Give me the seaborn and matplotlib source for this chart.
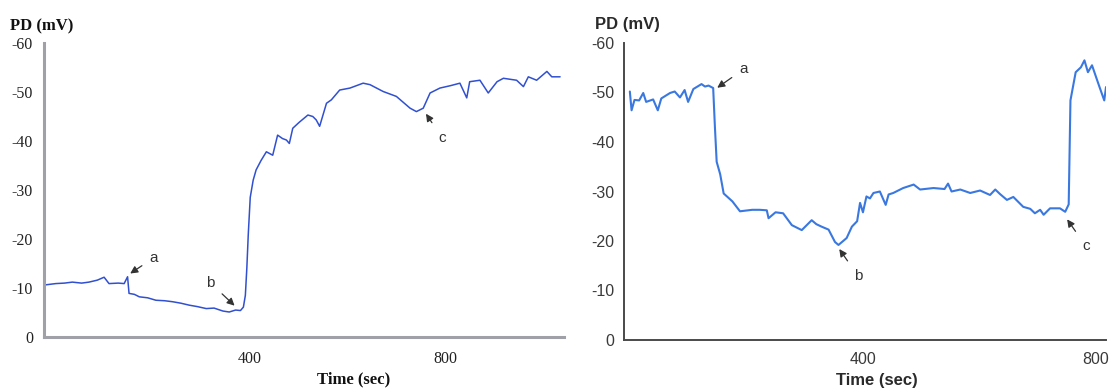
import numpy as np
import pandas as pd
import seaborn as sns
import matplotlib.pyplot as plt

# left trace: time (s) vs potential difference (mV)
left_time = [-22, 2, 20, 36, 55, 70, 87, 101, 111, 130, 142, 149, 152, 163, 173, 190,
             207, 225, 241, 258, 275, 292, 310, 326, 344, 357, 370, 380, 386, 390, 393,
             396, 400, 406, 412, 422, 433, 446, 456, 466, 474, 480, 487, 500, 518, 528,
             535, 542, 556, 566, 583, 604, 631, 645, 672, 699, 727, 740, 754, 768, 788,
             810, 829, 843, 849, 870, 887, 905, 918, 945, 959, 969, 986, 1007, 1017, 1034]
left_pd = [-10.6, -10.9, -11.0, -11.2, -11.0, -11.2, -11.6, -12.2, -10.9, -11.0, -10.9,
           -12.3, -8.9, -8.7, -8.2, -8.0, -7.5, -7.4, -7.2, -6.9, -6.5, -6.2, -5.8, -5.9,
           -5.3, -5.1, -5.5, -5.4, -6.1, -8.5, -14.0, -21.0, -28.5, -32.0, -34.1, -36.0,
           -37.8, -37.1, -41.2, -40.5, -40.2, -39.5, -42.6, -43.8, -45.3, -45.0, -44.3,
           -43.0, -47.7, -48.4, -50.4, -50.8, -51.8, -51.5, -50.1, -49.1, -46.7, -46.0,
           -46.7, -49.8, -50.8, -51.3, -51.8, -48.8, -52.1, -52.4, -49.8, -52.1, -52.8,
           -52.4, -51.1, -53.1, -52.4, -54.2, -53.1, -53.1]

# right trace
right_time = [0, 3, 8, 16, 23, 28, 40, 48, 54, 69, 77, 86, 94, 100, 109, 123, 129, 135,
              143, 146, 149, 155, 161, 176, 189, 210, 223, 235, 238, 250, 263, 278, 295,
              312, 320, 329, 341, 352, 358, 366, 372, 381, 390, 395, 400, 406, 412, 418,
              429, 439, 444, 452, 469, 487, 498, 521, 540, 546, 552, 567, 584, 601, 618,
              627, 635, 647, 658, 675, 687, 695, 704, 710, 721, 738, 747, 753, 756, 765,
              774, 780, 786, 793, 805, 814, 817]
right_pd = [-50.2, -46.4, -48.5, -48.4, -49.9, -48.1, -48.6, -46.4, -48.8, -49.9, -50.2,
            -49.0, -50.5, -48.1, -50.7, -51.7, -51.2, -51.4, -50.9, -43.0, -36.0, -33.5,
            -29.6, -28.0, -26.0, -26.3, -26.3, -26.2, -24.6, -25.8, -25.6, -23.2, -22.2,
            -24.2, -23.4, -22.9, -22.3, -19.8, -19.2, -20.0, -20.6, -22.9, -24.0, -27.7,
            -25.8, -29.0, -28.6, -29.7, -30.0, -27.3, -29.4, -29.7, -30.7, -31.4, -30.4,
            -30.7, -30.5, -31.6, -30.0, -30.4, -29.7, -30.2, -29.3, -30.4, -29.5, -28.3,
            -28.9, -26.9, -26.5, -25.6, -26.3, -25.3, -26.6, -26.6, -25.9, -27.4, -48.4,
            -54.1, -55.1, -56.5, -54.1, -55.5, -51.4, -48.4, -51.1]

# event markers (label, time, value)
left_events = ["a", "b", "c"]
left_event_time = [152, 370, 758]
left_event_pd = [-12.8, -6.2, -45.8]
right_events = ["a", "b", "c"]
right_event_time = [148, 358, 749]
right_event_pd = [-50.8, -18.6, -24.6]

sns.set_theme(style="white")
plt.rcParams["axes.unicode_minus"] = False

fig = plt.figure(figsize=(11.13, 3.9), dpi=100)
ax1 = fig.add_axes([44 / 1113, 53 / 390, 520 / 1113, 294 / 390])
ax2 = fig.add_axes([624 / 1113, 50 / 390, 482 / 1113, 297 / 390])

left_df = pd.DataFrame({"time": left_time, "pd": left_pd})
right_df = pd.DataFrame({"time": right_time, "pd": right_pd})

sns.lineplot(data=left_df, x="time", y="pd", ax=ax1, color="#3050d0", lw=1.1, sort=False)
sns.lineplot(data=right_df, x="time", y="pd", ax=ax2, color="#3a78e0", lw=1.5, sort=False)

serif = "Liberation Serif"
sans = "Liberation Sans"

# left panel
ax1.set_xlim(-22, 1042)
ax1.set_ylim(0, -60)
ax1.set_xticks([400, 800])
ax1.set_yticks([-60, -50, -40, -30, -20, -10, 0])
for s in ["top", "right"]:
    ax1.spines[s].set_visible(False)
for s in ["left", "bottom"]:
    ax1.spines[s].set_color("#a0a0a8")
    ax1.spines[s].set_linewidth(2.2)
ax1.tick_params(axis="y", direction="inout", length=6, width=1.2, color="#505050", pad=5,
                labelsize=11.5, labelcolor="#222222")
ax1.tick_params(axis="x", length=0, pad=10, labelsize=11.5, labelcolor="#222222")
for lab in ax1.get_xticklabels() + ax1.get_yticklabels():
    lab.set_family(serif)
ax1.set_xlabel("Time (sec)", family=serif, fontweight="bold", fontsize=12, color="#111111")
ax1.xaxis.set_label_coords(0.595, -0.117)
ax1.set_ylabel("")
fig.text(10 / 1113, 1 - 26 / 390, "PD (mV)", family=serif, fontweight="bold", fontsize=12,
         ha="left", va="center", color="#111111")

# right panel
ax2.set_xlim(-10, 817)
ax2.set_ylim(0, -60)
ax2.set_xticks([400, 800])
ax2.set_yticks([-60, -50, -40, -30, -20, -10, 0])
for s in ["top", "right"]:
    ax2.spines[s].set_visible(False)
for s in ["left", "bottom"]:
    ax2.spines[s].set_color("#4a4a4a")
    ax2.spines[s].set_linewidth(1.4)
ax2.tick_params(axis="y", direction="inout", length=6, width=1.2, color="#4a4a4a", pad=4,
                labelsize=11.5, labelcolor="#3a3a3a")
ax2.tick_params(axis="x", length=0, pad=9, labelsize=11.5, labelcolor="#3a3a3a")
for lab in ax2.get_xticklabels() + ax2.get_yticklabels():
    lab.set_family(sans)
ax2.set_xlabel("Time (sec)", family=sans, fontweight="bold", fontsize=12, color="#2a2a2a")
ax2.xaxis.set_label_coords(0.525, -0.112)
ax2.set_ylabel("")
fig.text(595 / 1113, 1 - 24 / 390, "PD (mV)", family=sans, fontweight="bold", fontsize=12,
         ha="left", va="center", color="#2a2a2a")

# annotations: text offset in points from the arrow tip
left_offsets = [(18, 12), (-18, 17), (12, -18)]
right_offsets = [(20, 14), (14, -20), (14, -20)]
for lab, t, v, off in zip(left_events, left_event_time, left_event_pd, left_offsets):
    ax1.annotate(lab, xy=(t, v), xytext=off, textcoords="offset points",
                 fontsize=11, color="#333333", family=sans, ha="center", va="center",
                 arrowprops=dict(arrowstyle="-|>,head_length=0.4,head_width=0.2",
                                 color="#333333", lw=0.9, shrinkA=4, shrinkB=1))
for lab, t, v, off in zip(right_events, right_event_time, right_event_pd, right_offsets):
    ax2.annotate(lab, xy=(t, v), xytext=off, textcoords="offset points",
                 fontsize=11, color="#333333", family=sans, ha="center", va="center",
                 arrowprops=dict(arrowstyle="-|>,head_length=0.4,head_width=0.2",
                                 color="#333333", lw=0.9, shrinkA=4, shrinkB=1))

fig.savefig("out.png", dpi=100)
